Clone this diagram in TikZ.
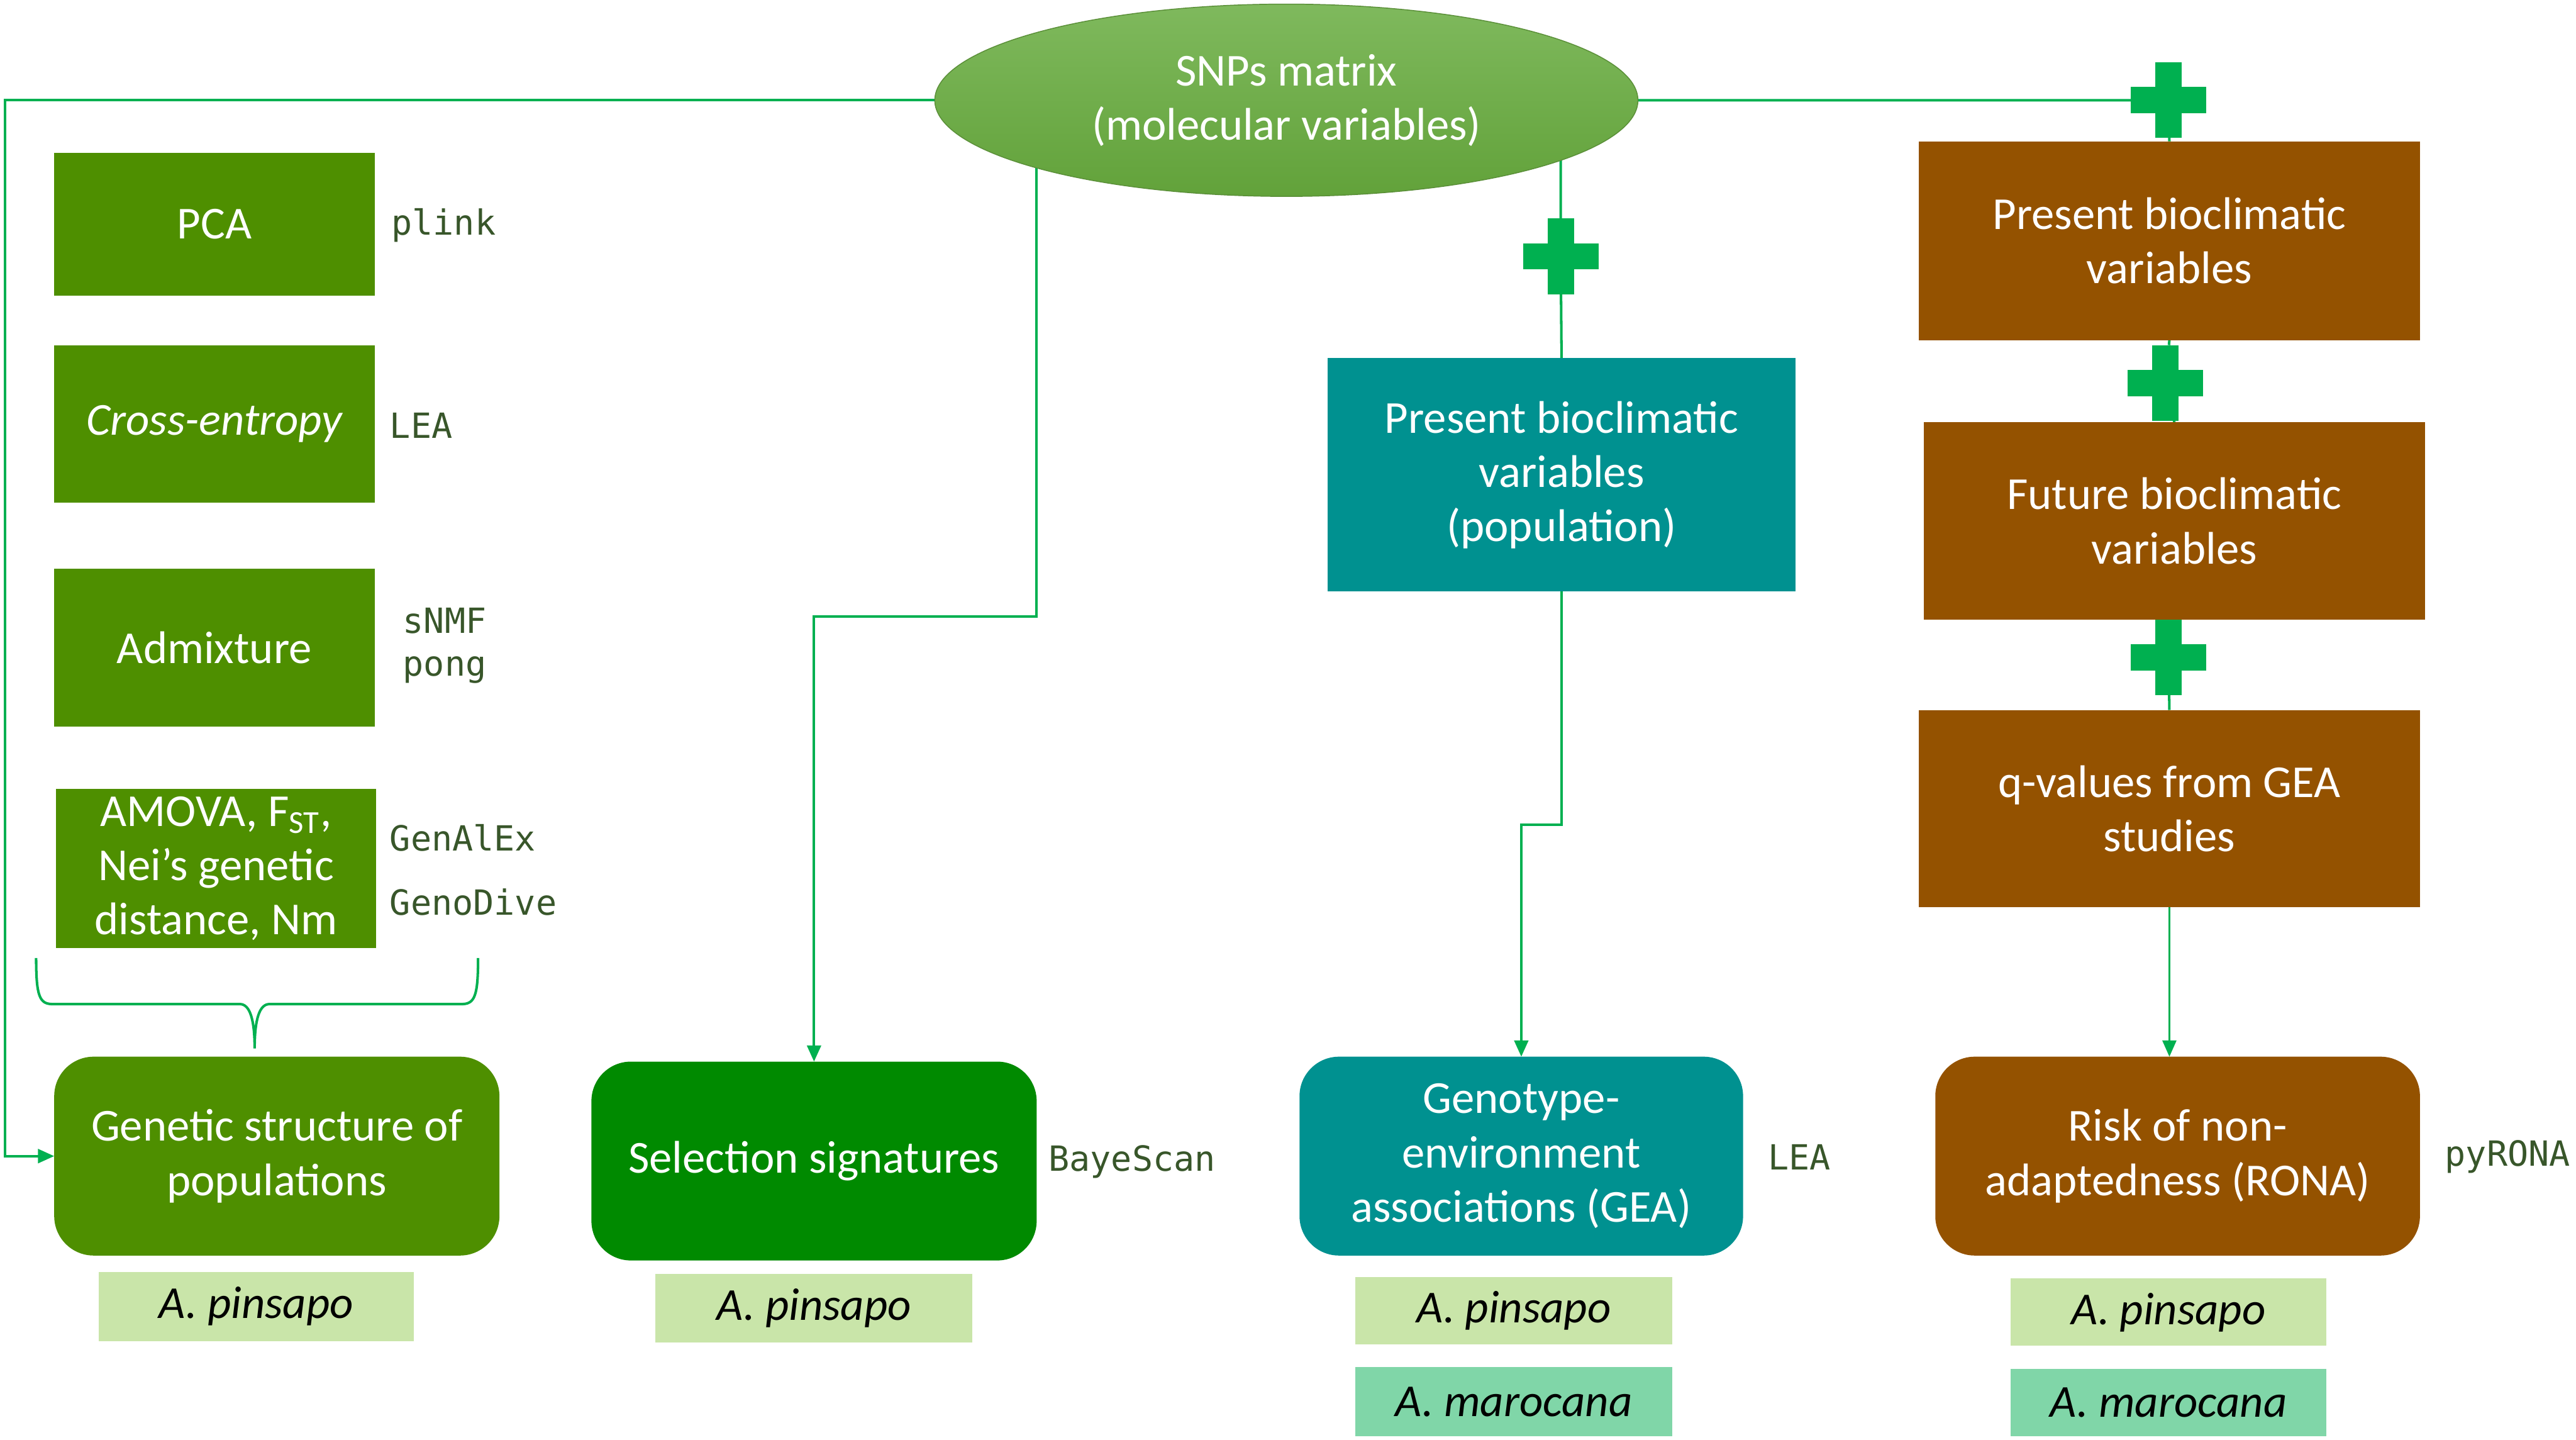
\documentclass[tikz,border=0pt]{standalone}
\usepackage{fontspec}
\setmainfont{Carlito}
\newfontfamily\monof{DejaVu Sans Mono}
\usetikzlibrary{shapes.geometric,arrows.meta,backgrounds,calc}
\definecolor{conngreen}{HTML}{00B050}
\definecolor{boxgreen}{HTML}{4E8F00}
\definecolor{selgreen}{HTML}{008A00}
\definecolor{tealbox}{HTML}{009190}
\definecolor{brownbox}{HTML}{945200}
\definecolor{lightgreen}{HTML}{C9E5A9}
\definecolor{mint}{HTML}{80D6A8}
\definecolor{toolgreen}{HTML}{38562A}
\definecolor{elltop}{HTML}{7FB95D}
\definecolor{ellbot}{HTML}{62A23A}
\definecolor{ellborder}{HTML}{5A8F38}
\begin{document}
\begin{tikzpicture}[x=0.025cm,y=-0.025cm,
  sz/.style n args={2}{minimum width=#1*0.025cm,minimum height=#2*0.025cm},
  box/.style={rectangle,inner sep=0pt,outer sep=0pt,text=white,align=center,font=\fontsize{19.8}{23.5}\selectfont},
  rbox/.style={box,rounded corners=0.6cm},
  tag/.style={rectangle,inner sep=0pt,outer sep=0pt,font=\fontsize{19.8}{23.5}\selectfont\itshape,text=black},
  tool/.style={anchor=west,inner sep=0pt,text=toolgreen,font=\monof\fontsize{15}{18.5}\selectfont,align=left},
  conn/.style={draw=conngreen,line width=1.1pt},
  arr/.style={-{Triangle[length=7pt,width=6pt]}},
  plusnode/.style={inner sep=0pt,outer sep=0pt,sz={46}{46}}
]
\useasboundingbox (0,0) rectangle (1568,876);

% central ellipse
\node[ellipse,sz={428}{117},inner sep=0pt,top color=elltop,bottom color=ellbot,draw=ellborder,line width=0.4pt,text=white,align=center,font=\fontsize{19.8}{23.5}\selectfont] (snp) at (783,61) {SNPs matrix\\(molecular variables)};

% left column
\node[box,fill=boxgreen,sz={195}{87}] (pca) at (130.5,136.5) {PCA};
\node[box,fill=boxgreen,sz={195}{96},font=\fontsize{19.8}{23.5}\selectfont\itshape] (ce) at (130.5,258) {Cross-entropy};
\node[box,fill=boxgreen,sz={195}{96}] (adm) at (130.5,394) {Admixture};
\node[box,fill=boxgreen,sz={195}{97}] (amova) at (131.5,528.5) {AMOVA, F\textsubscript{ST},\\Nei’s genetic\\distance, Nm};
\node[tool] (tplink) at (238,137) {plink};
\node[tool] (tlea1) at (237,259) {LEA};
\node[tool] (tsnmf) at (245,393) {sNMF\\pong};
\node[tool] (tgenal) at (237,510) {GenAlEx};
\node[tool] (tgeno) at (237,549) {GenoDive};

\node[rbox,fill=boxgreen,sz={271}{121}] (gs) at (168.5,703.5) {Genetic structure of\\populations};
\node[tag,fill=lightgreen,sz={192}{42}] (ap1) at (156,795) {A. pinsapo};

% selection
\node[rbox,fill=selgreen,sz={271}{121}] (sel) at (495.5,706.5) {Selection signatures};
\node[tool] (tbaye) at (638,707) {BayeScan};
\node[tag,fill=lightgreen,sz={193}{42}] (ap2) at (495.5,796) {A. pinsapo};

% GEA column
\node[box,fill=tealbox,sz={285}{142}] (teal) at (950.5,289) {Present bioclimatic\\variables\\(population)};
\node[rbox,fill=tealbox,sz={270}{121}] (gea) at (926,703.5) {Genotype-\\environment\\associations (GEA)};
\node[tool] (tlea2) at (1076,704) {LEA};
\node[tag,fill=lightgreen,sz={193}{41}] (ap3) at (921.5,797.5) {A. pinsapo};
\node[tag,fill=mint,sz={193}{42}] (am3) at (921.5,853) {A. marocana};

% RONA column
\node[box,fill=brownbox,sz={305}{121}] (b1) at (1320.5,146.5) {Present bioclimatic\\variables};
\node[box,fill=brownbox,sz={305}{120}] (b2) at (1323.5,317) {Future bioclimatic\\variables};
\node[box,fill=brownbox,sz={305}{120}] (b3) at (1320.5,492) {q-values from GEA\\studies};
\node[rbox,fill=brownbox,sz={295}{121}] (rona) at (1325.5,703.5) {Risk of non-\\adaptedness (RONA)};
\node[tool] (tpyr) at (1488,704) {pyRONA};
\node[tag,fill=lightgreen,sz={192}{41}] (ap4) at (1320,798.5) {A. pinsapo};
\node[tag,fill=mint,sz={192}{41}] (am4) at (1320,853.5) {A. marocana};

% plus signs
\node[plusnode] (p1) at (950,156) {};
\node[plusnode] (p2) at (1320,61) {};
\node[plusnode] (p3) at (1318,233) {};
\node[plusnode] (p4) at (1320,400) {};
\foreach \p in {p1,p2,p3,p4}{
  \fill[conngreen] ([xshift=-0.2cm]\p.north) rectangle ([xshift=0.2cm]\p.south);
  \fill[conngreen] ([yshift=-0.2cm]\p.west) rectangle ([yshift=0.2cm]\p.east);
}

% connectors
\begin{pgfonlayer}{background}
\coordinate (lcorner) at (3,61);
\draw[conn,arr] (snp.west) -- (lcorner) |- (gs.west);
\draw[conn,arr] ($(snp.center)+(-152,0)$) -- ++(0,314) -| (sel.north);
\draw[conn] ($(snp.center)+(167,0)$) -- (p1) -- (teal.north);
\draw[conn,arr] (teal.south) -- ++(0,142) -| (gea.north);
\draw[conn] (snp.east) -| (p2.center) -- (b1.north);
\draw[conn] (b1.south) -- (p3) -- (b2.north);
\draw[conn] (b2.south) -- (p4) -- (b3.north);
\draw[draw=conngreen,line width=0.7pt,arr] (b3.south) -- (b3.south |- rona.north);
\end{pgfonlayer}

% brace
\draw[conn] (22,583) .. controls (22,606) and (24,611) .. (32,611) -- (146,611)
  .. controls (152,611) and (155,620) .. (155,638)
  .. controls (155,620) and (158,611) .. (164,611) -- (281,611)
  .. controls (289,611) and (291,606) .. (291,583);
\end{tikzpicture}
\end{document}
